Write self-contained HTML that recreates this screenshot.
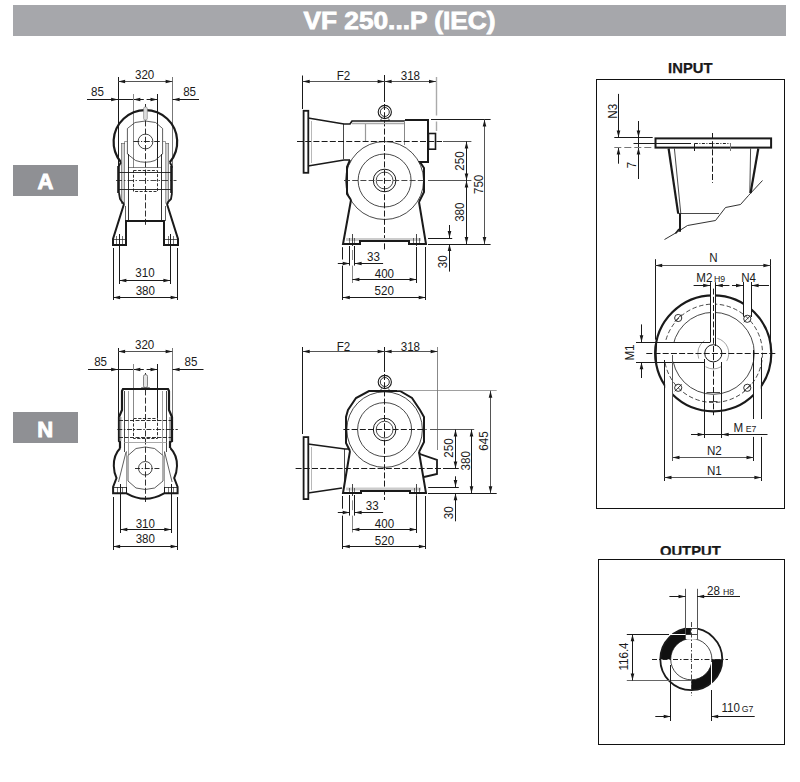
<!DOCTYPE html><html><head><meta charset="utf-8"><style>
html,body{margin:0;padding:0;background:#fff;}
body{width:800px;height:782px;position:relative;overflow:hidden;font-family:"Liberation Sans",sans-serif;}
svg{position:absolute;left:0;top:0;}
svg text{font-family:"Liberation Sans",sans-serif;}
</style></head><body>
<svg width="800" height="782" viewBox="0 0 800 782">
<rect x="13" y="5" width="773" height="31" fill="#a6a7ab"/>
<text x="0" y="0" transform="translate(399.50 28.70)" font-size="23.6" text-anchor="middle" font-weight="bold" fill="#fff" textLength="192" lengthAdjust="spacingAndGlyphs" stroke="#fff" stroke-width="0.8">VF 250...P (IEC)</text>
<rect x="13" y="165" width="65" height="31" fill="#8f9094"/>
<text x="0" y="0" transform="translate(45.50 188.60)" font-size="22" text-anchor="middle" font-weight="bold" fill="#fff" stroke="#fff" stroke-width="0.9">A</text>
<rect x="13" y="412" width="65" height="31" fill="#8f9094"/>
<text x="0" y="0" transform="translate(45.30 436.60)" font-size="22" text-anchor="middle" font-weight="bold" fill="#fff" stroke="#fff" stroke-width="0.9">N</text>
<rect x="596.5" y="79.5" width="188" height="429" fill="none" stroke="#111" stroke-width="1"/>
<text x="0" y="0" transform="translate(690.30 72.80)" font-size="14.8" text-anchor="middle" font-weight="bold" fill="#1a1a1a" stroke="#111" stroke-width="0.25">INPUT</text>
<text x="0" y="0" transform="translate(690.30 555.80)" font-size="14.8" text-anchor="middle" font-weight="bold" fill="#1a1a1a" stroke="#111" stroke-width="0.25">OUTPUT</text>
<rect x="640" y="554.8" width="100" height="4.2" fill="#fff"/>
<rect x="598.5" y="559.5" width="186" height="185" fill="none" stroke="#111" stroke-width="1"/>
<line x1="118.50" y1="77.00" x2="118.50" y2="168.00" stroke="#1a1a1a" stroke-width="1.0" stroke-linecap="butt"/>
<line x1="172.50" y1="77.00" x2="172.50" y2="168.00" stroke="#777" stroke-width="1.0" stroke-linecap="butt"/>
<line x1="118.10" y1="81.50" x2="172.60" y2="81.50" stroke="#555" stroke-width="1.0" stroke-linecap="butt"/>
<polygon points="118.10,81.50 125.10,79.70 125.10,83.30" fill="#1a1a1a"/>
<polygon points="172.60,81.50 165.60,83.30 165.60,79.70" fill="#1a1a1a"/>
<text x="0" y="0" transform="translate(144.60 79.30) scale(0.95 1)" font-size="12.2" text-anchor="middle" fill="#1a1a1a">320</text>
<line x1="87.00" y1="99.50" x2="133.30" y2="99.50" stroke="#1a1a1a" stroke-width="1.0" stroke-linecap="butt"/>
<polygon points="118.10,99.50 111.10,101.30 111.10,97.70" fill="#1a1a1a"/>
<line x1="143.80" y1="99.50" x2="133.30" y2="99.50" stroke="#1a1a1a" stroke-width="1.0" stroke-linecap="butt"/>
<polygon points="133.30,99.50 140.30,97.70 140.30,101.30" fill="#1a1a1a"/>
<line x1="146.60" y1="99.50" x2="157.50" y2="99.50" stroke="#1a1a1a" stroke-width="1.0" stroke-linecap="butt"/>
<polygon points="157.50,99.50 150.50,101.30 150.50,97.70" fill="#1a1a1a"/>
<line x1="199.00" y1="99.50" x2="172.60" y2="99.50" stroke="#1a1a1a" stroke-width="1.0" stroke-linecap="butt"/>
<polygon points="172.60,99.50 179.60,97.70 179.60,101.30" fill="#1a1a1a"/>
<text x="0" y="0" transform="translate(97.40 96.30) scale(0.95 1)" font-size="12.2" text-anchor="middle" fill="#1a1a1a">85</text>
<text x="0" y="0" transform="translate(189.60 96.30) scale(0.95 1)" font-size="12.2" text-anchor="middle" fill="#1a1a1a">85</text>
<line x1="133.50" y1="94.00" x2="133.50" y2="168.00" stroke="#888" stroke-width="1.0" stroke-linecap="butt"/>
<line x1="157.50" y1="94.00" x2="157.50" y2="168.00" stroke="#1a1a1a" stroke-width="1.0" stroke-linecap="butt"/>
<line x1="145.50" y1="104.00" x2="145.50" y2="227.00" stroke="#1a1a1a" stroke-width="0.9" stroke-linecap="butt" stroke-dasharray="6 2.2"/>
<path d="M 121 162.3 A 31.8 31.8 0 1 1 169.8 162.3" stroke="#1a1a1a" stroke-width="2.2" fill="none" stroke-linejoin="miter"/>
<rect x="143.6" y="107" width="3.7" height="13" rx="1.5" fill="#ddd" stroke="#777" stroke-width="0.6"/>
<path d="M 127.4 154 L 127.4 128.5 L 135 122.5 Q 145.3 119.5 155.6 122.5 L 162.6 128.5 L 162.6 154 L 155 160.5 Q 145.3 164 135.6 160.5 Z" stroke="#333" stroke-width="0.8" fill="none" stroke-linejoin="miter"/>
<circle cx="145.50" cy="141.50" r="7.40" stroke="#1a1a1a" stroke-width="0.8" fill="none"/>
<line x1="133.40" y1="141.50" x2="159.80" y2="141.50" stroke="#1a1a1a" stroke-width="0.9" stroke-linecap="butt" stroke-dasharray="6 1.6 1.2 1.6"/>
<line x1="128.20" y1="167.50" x2="161.20" y2="167.50" stroke="#555" stroke-width="0.7" stroke-linecap="butt"/>
<rect x="121.4" y="143.3" width="3.3" height="60" fill="#d4d4d4" stroke="#555" stroke-width="0.6"/>
<rect x="165.8" y="143.3" width="2.9" height="60" fill="#d4d4d4" stroke="#555" stroke-width="0.6"/>
<path d="M 124.5 143.5 L 124.5 141.5 L 127.5 141.5" stroke="#555" stroke-width="0.6" fill="none" stroke-linejoin="miter"/>
<path d="M 165.5 143.5 L 165.5 141.5 L 162.5 141.5" stroke="#555" stroke-width="0.6" fill="none" stroke-linejoin="miter"/>
<line x1="118.50" y1="166.00" x2="118.50" y2="193.00" stroke="#1a1a1a" stroke-width="2.6" stroke-linecap="butt"/>
<line x1="171.50" y1="166.00" x2="171.50" y2="193.00" stroke="#1a1a1a" stroke-width="2.6" stroke-linecap="butt"/>
<line x1="121.00" y1="162.30" x2="118.80" y2="166.00" stroke="#1a1a1a" stroke-width="1.8" stroke-linecap="butt"/>
<line x1="169.80" y1="162.30" x2="171.80" y2="166.00" stroke="#1a1a1a" stroke-width="1.8" stroke-linecap="butt"/>
<line x1="119.00" y1="172.50" x2="171.00" y2="172.50" stroke="#1a1a1a" stroke-width="0.9" stroke-linecap="butt"/>
<line x1="119.00" y1="189.50" x2="171.00" y2="189.50" stroke="#1a1a1a" stroke-width="0.9" stroke-linecap="butt"/>
<path d="M 133.5 170.5 L 157.5 170.5 L 157.5 191.5 L 133.5 191.5 Z" stroke="#1a1a1a" stroke-width="0.9" fill="none" stroke-linejoin="miter" stroke-dasharray="3 1.6"/>
<line x1="116.00" y1="180.50" x2="176.50" y2="180.50" stroke="#1a1a1a" stroke-width="0.8" stroke-linecap="butt" stroke-dasharray="6 2 1.5 2"/>
<line x1="128.50" y1="154.00" x2="128.50" y2="221.20" stroke="#1a1a1a" stroke-width="0.9" stroke-linecap="butt"/>
<line x1="161.50" y1="154.00" x2="161.50" y2="221.20" stroke="#1a1a1a" stroke-width="0.9" stroke-linecap="butt"/>
<path d="M 119 193 L 120 199 L 122 202 L 124 204" stroke="#1a1a1a" stroke-width="1.8" fill="none" stroke-linejoin="miter"/>
<path d="M 172 193 L 171 199 L 168 202 L 167 204" stroke="#1a1a1a" stroke-width="1.8" fill="none" stroke-linejoin="miter"/>
<path d="M 124 204 L 113 239 L 113 245 L 126 245 L 126 221 L 164 221 L 164 245 L 178 245 L 178 239 L 167 204" stroke="#1a1a1a" stroke-width="2.0" fill="none" stroke-linejoin="miter"/>
<line x1="113.10" y1="239.50" x2="126.50" y2="239.50" stroke="#1a1a1a" stroke-width="0.7" stroke-linecap="butt"/>
<line x1="164.00" y1="239.50" x2="177.60" y2="239.50" stroke="#1a1a1a" stroke-width="0.7" stroke-linecap="butt"/>
<line x1="116.50" y1="236.00" x2="116.50" y2="245.00" stroke="#1a1a1a" stroke-width="0.6" stroke-linecap="butt"/>
<line x1="122.50" y1="236.00" x2="122.50" y2="245.00" stroke="#1a1a1a" stroke-width="0.6" stroke-linecap="butt"/>
<line x1="168.50" y1="236.00" x2="168.50" y2="245.00" stroke="#1a1a1a" stroke-width="0.6" stroke-linecap="butt"/>
<line x1="173.50" y1="236.00" x2="173.50" y2="245.00" stroke="#1a1a1a" stroke-width="0.6" stroke-linecap="butt"/>
<line x1="125.50" y1="206.00" x2="125.50" y2="221.00" stroke="#1a1a1a" stroke-width="0.7" stroke-linecap="butt"/>
<line x1="165.50" y1="206.00" x2="165.50" y2="221.00" stroke="#1a1a1a" stroke-width="0.7" stroke-linecap="butt"/>
<line x1="119.50" y1="234.00" x2="119.50" y2="284.00" stroke="#1a1a1a" stroke-width="1.0" stroke-linecap="butt"/>
<line x1="170.50" y1="234.00" x2="170.50" y2="284.00" stroke="#1a1a1a" stroke-width="1.0" stroke-linecap="butt"/>
<line x1="119.40" y1="280.50" x2="170.40" y2="280.50" stroke="#1a1a1a" stroke-width="1.0" stroke-linecap="butt"/>
<polygon points="119.40,280.50 126.40,278.70 126.40,282.30" fill="#1a1a1a"/>
<polygon points="170.40,280.50 163.40,282.30 163.40,278.70" fill="#1a1a1a"/>
<text x="0" y="0" transform="translate(145.00 277.20) scale(0.95 1)" font-size="12.2" text-anchor="middle" fill="#1a1a1a">310</text>
<line x1="113.50" y1="248.00" x2="113.50" y2="300.00" stroke="#1a1a1a" stroke-width="1.0" stroke-linecap="butt"/>
<line x1="177.50" y1="248.00" x2="177.50" y2="300.00" stroke="#1a1a1a" stroke-width="1.0" stroke-linecap="butt"/>
<line x1="113.10" y1="297.50" x2="177.60" y2="297.50" stroke="#1a1a1a" stroke-width="1.0" stroke-linecap="butt"/>
<polygon points="113.10,297.50 120.10,295.70 120.10,299.30" fill="#1a1a1a"/>
<polygon points="177.60,297.50 170.60,299.30 170.60,295.70" fill="#1a1a1a"/>
<text x="0" y="0" transform="translate(145.30 294.50) scale(0.95 1)" font-size="12.2" text-anchor="middle" fill="#1a1a1a">380</text>
<line x1="302.50" y1="75.50" x2="302.50" y2="109.00" stroke="#1a1a1a" stroke-width="1.0" stroke-linecap="butt"/>
<line x1="384.50" y1="75.00" x2="384.50" y2="102.00" stroke="#1a1a1a" stroke-width="1.0" stroke-linecap="butt"/>
<line x1="384.50" y1="104.00" x2="384.50" y2="250.00" stroke="#1a1a1a" stroke-width="1.0" stroke-linecap="butt" stroke-dasharray="6 2.2"/>
<line x1="436.50" y1="77.00" x2="436.50" y2="115.50" stroke="#aaa" stroke-width="1.4" stroke-linecap="butt"/>
<line x1="436.50" y1="121.50" x2="436.50" y2="131.00" stroke="#aaa" stroke-width="1.4" stroke-linecap="butt"/>
<line x1="302.70" y1="81.50" x2="384.60" y2="81.50" stroke="#555" stroke-width="1.0" stroke-linecap="butt"/>
<polygon points="302.70,81.50 309.70,79.70 309.70,83.30" fill="#1a1a1a"/>
<polygon points="384.60,81.50 377.60,83.30 377.60,79.70" fill="#1a1a1a"/>
<line x1="384.60" y1="81.50" x2="436.00" y2="81.50" stroke="#555" stroke-width="1.0" stroke-linecap="butt"/>
<polygon points="384.60,81.50 391.60,79.70 391.60,83.30" fill="#1a1a1a"/>
<polygon points="436.00,81.50 429.00,83.30 429.00,79.70" fill="#1a1a1a"/>
<text x="0" y="0" transform="translate(343.40 80.20) scale(0.95 1)" font-size="12.2" text-anchor="middle" fill="#1a1a1a">F2</text>
<text x="0" y="0" transform="translate(410.40 80.20) scale(0.95 1)" font-size="12.2" text-anchor="middle" fill="#1a1a1a">318</text>
<circle cx="384.80" cy="112.00" r="6.60" stroke="#1a1a1a" stroke-width="1.1" fill="none"/>
<circle cx="384.80" cy="112.00" r="4.50" stroke="#1a1a1a" stroke-width="0.9" fill="none"/>
<path d="M 381.5 118.5 L 380.5 120.5 L 389.5 120.5 L 388.5 118.5" stroke="#1a1a1a" stroke-width="0.8" fill="none" stroke-linejoin="miter"/>
<rect x="303.6" y="110.8" width="4.7" height="62" fill="none" stroke="#1a1a1a" stroke-width="1.8"/>
<path d="M 308 118 L 344 124 L 350 124 L 352 121 L 405 121" stroke="#1a1a1a" stroke-width="1.7" fill="none" stroke-linejoin="miter"/>
<path d="M 308 166 L 344 160 L 350 160" stroke="#1a1a1a" stroke-width="1.7" fill="none" stroke-linejoin="miter"/>
<line x1="311.50" y1="121.00" x2="311.50" y2="163.00" stroke="#888" stroke-width="0.6" stroke-linecap="butt"/>
<line x1="343.50" y1="123.90" x2="343.50" y2="159.10" stroke="#1a1a1a" stroke-width="0.8" stroke-linecap="butt"/>
<line x1="352.00" y1="123.50" x2="404.00" y2="123.50" stroke="#aaa" stroke-width="1.4" stroke-linecap="butt"/>
<line x1="365.50" y1="124.00" x2="365.50" y2="141.40" stroke="#999" stroke-width="1.2" stroke-linecap="butt"/>
<line x1="404.50" y1="121.00" x2="404.50" y2="145.00" stroke="#888" stroke-width="1.0" stroke-linecap="butt"/>
<path d="M 405 120 L 428 120 L 428 162 L 420 162 L 424 168 L 424 192 L 419 202" stroke="#1a1a1a" stroke-width="2.0" fill="none" stroke-linejoin="miter"/>
<rect x="428.5" y="133.5" width="7" height="15.7" fill="none" stroke="#1a1a1a" stroke-width="1.6"/>
<path d="M 350 160 L 347 167 L 347 194 L 351 200" stroke="#1a1a1a" stroke-width="2.0" fill="none" stroke-linejoin="miter"/>
<circle cx="384.60" cy="180.50" r="39.00" stroke="#1a1a1a" stroke-width="0.8" fill="none"/>
<circle cx="384.60" cy="180.50" r="26.50" stroke="#1a1a1a" stroke-width="0.8" fill="none"/>
<circle cx="384.60" cy="180.50" r="11.30" stroke="#1a1a1a" stroke-width="1.0" fill="none"/>
<circle cx="384.60" cy="180.50" r="8.40" stroke="#1a1a1a" stroke-width="0.8" fill="none"/>
<line x1="297.00" y1="141.50" x2="442.00" y2="141.50" stroke="#1a1a1a" stroke-width="1.0" stroke-linecap="butt" stroke-dasharray="6 2.2"/>
<line x1="443.00" y1="141.50" x2="471.40" y2="141.50" stroke="#555" stroke-width="1.0" stroke-linecap="butt"/>
<line x1="344.00" y1="180.50" x2="425.00" y2="180.50" stroke="#333" stroke-width="0.9" stroke-linecap="butt" stroke-dasharray="6 2.2"/>
<line x1="428.00" y1="180.50" x2="471.40" y2="180.50" stroke="#555" stroke-width="1.0" stroke-linecap="butt"/>
<rect x="346" y="238" width="75" height="3" fill="#ccc"/>
<path d="M 351 200 L 343 244 L 360 244 L 360 241 L 409 241 L 409 244 L 426 244 L 419 202" stroke="#1a1a1a" stroke-width="2.0" fill="none" stroke-linejoin="miter"/>
<line x1="360.50" y1="241.00" x2="408.80" y2="241.00" stroke="#1a1a1a" stroke-width="2.2" stroke-linecap="butt"/>
<line x1="352.50" y1="234.00" x2="352.50" y2="246.00" stroke="#1a1a1a" stroke-width="0.8" stroke-linecap="butt"/>
<line x1="349.50" y1="238.00" x2="349.50" y2="244.00" stroke="#1a1a1a" stroke-width="0.6" stroke-linecap="butt"/>
<line x1="354.50" y1="238.00" x2="354.50" y2="244.00" stroke="#1a1a1a" stroke-width="0.6" stroke-linecap="butt"/>
<line x1="416.50" y1="234.00" x2="416.50" y2="246.00" stroke="#1a1a1a" stroke-width="0.8" stroke-linecap="butt"/>
<line x1="413.50" y1="238.00" x2="413.50" y2="244.00" stroke="#1a1a1a" stroke-width="0.6" stroke-linecap="butt"/>
<line x1="419.50" y1="238.00" x2="419.50" y2="244.00" stroke="#1a1a1a" stroke-width="0.6" stroke-linecap="butt"/>
<line x1="431.00" y1="119.50" x2="490.60" y2="119.50" stroke="#1a1a1a" stroke-width="1.0" stroke-linecap="butt"/>
<line x1="428.00" y1="244.50" x2="490.60" y2="244.50" stroke="#1a1a1a" stroke-width="1.0" stroke-linecap="butt"/>
<line x1="484.50" y1="119.40" x2="484.50" y2="244.10" stroke="#555" stroke-width="1.0" stroke-linecap="butt"/>
<polygon points="484.50,119.40 486.30,126.40 482.70,126.40" fill="#1a1a1a"/>
<polygon points="484.50,244.10 482.70,237.10 486.30,237.10" fill="#1a1a1a"/>
<text x="0" y="0" transform="translate(479.00 184.40) rotate(-90) scale(0.95 1)" font-size="12.2" text-anchor="middle" fill="#1a1a1a" dominant-baseline="central">750</text>
<line x1="466.50" y1="141.40" x2="466.50" y2="180.50" stroke="#1a1a1a" stroke-width="1.0" stroke-linecap="butt"/>
<polygon points="466.50,141.40 468.30,148.40 464.70,148.40" fill="#1a1a1a"/>
<polygon points="466.50,180.50 464.70,173.50 468.30,173.50" fill="#1a1a1a"/>
<line x1="466.50" y1="180.50" x2="466.50" y2="244.10" stroke="#1a1a1a" stroke-width="1.0" stroke-linecap="butt"/>
<polygon points="466.50,180.50 468.30,187.50 464.70,187.50" fill="#1a1a1a"/>
<polygon points="466.50,244.10 464.70,237.10 468.30,237.10" fill="#1a1a1a"/>
<text x="0" y="0" transform="translate(460.30 161.00) rotate(-90) scale(0.95 1)" font-size="12.2" text-anchor="middle" fill="#1a1a1a" dominant-baseline="central">250</text>
<text x="0" y="0" transform="translate(460.30 212.20) rotate(-90) scale(0.95 1)" font-size="12.2" text-anchor="middle" fill="#1a1a1a" dominant-baseline="central">380</text>
<line x1="428.00" y1="238.50" x2="452.20" y2="238.50" stroke="#1a1a1a" stroke-width="1.0" stroke-linecap="butt"/>
<line x1="449.50" y1="225.00" x2="449.50" y2="238.10" stroke="#1a1a1a" stroke-width="1.0" stroke-linecap="butt"/>
<polygon points="449.50,238.10 447.70,231.10 451.30,231.10" fill="#1a1a1a"/>
<line x1="449.50" y1="271.60" x2="449.50" y2="244.10" stroke="#1a1a1a" stroke-width="1.0" stroke-linecap="butt"/>
<polygon points="449.50,244.10 451.30,251.10 447.70,251.10" fill="#1a1a1a"/>
<text x="0" y="0" transform="translate(443.00 261.70) rotate(-90) scale(0.95 1)" font-size="12.2" text-anchor="middle" fill="#1a1a1a" dominant-baseline="central">30</text>
<line x1="342.50" y1="247.20" x2="342.50" y2="259.50" stroke="#1a1a1a" stroke-width="1.0" stroke-linecap="butt"/>
<line x1="342.50" y1="265.60" x2="342.50" y2="300.00" stroke="#1a1a1a" stroke-width="1.0" stroke-linecap="butt"/>
<line x1="425.50" y1="247.00" x2="425.50" y2="300.00" stroke="#1a1a1a" stroke-width="1.0" stroke-linecap="butt"/>
<line x1="349.50" y1="246.00" x2="349.50" y2="265.60" stroke="#1a1a1a" stroke-width="1.0" stroke-linecap="butt"/>
<line x1="354.50" y1="246.00" x2="354.50" y2="265.60" stroke="#1a1a1a" stroke-width="1.0" stroke-linecap="butt"/>
<line x1="352.50" y1="250.00" x2="352.50" y2="260.00" stroke="#888" stroke-width="1.0" stroke-linecap="butt"/>
<line x1="352.50" y1="265.60" x2="352.50" y2="283.00" stroke="#888" stroke-width="1.0" stroke-linecap="butt"/>
<line x1="416.50" y1="247.00" x2="416.50" y2="283.00" stroke="#1a1a1a" stroke-width="1.0" stroke-linecap="butt"/>
<line x1="337.80" y1="263.50" x2="349.70" y2="263.50" stroke="#1a1a1a" stroke-width="1.0" stroke-linecap="butt"/>
<polygon points="349.70,263.50 342.70,265.30 342.70,261.70" fill="#1a1a1a"/>
<line x1="383.10" y1="263.50" x2="354.60" y2="263.50" stroke="#1a1a1a" stroke-width="1.0" stroke-linecap="butt"/>
<polygon points="354.60,263.50 361.60,261.70 361.60,265.30" fill="#1a1a1a"/>
<text x="0" y="0" transform="translate(373.50 261.30) scale(0.95 1)" font-size="12.2" text-anchor="middle" fill="#1a1a1a">33</text>
<line x1="352.40" y1="279.50" x2="416.60" y2="279.50" stroke="#1a1a1a" stroke-width="1.0" stroke-linecap="butt"/>
<polygon points="352.40,279.50 359.40,277.70 359.40,281.30" fill="#1a1a1a"/>
<polygon points="416.60,279.50 409.60,281.30 409.60,277.70" fill="#1a1a1a"/>
<text x="0" y="0" transform="translate(384.40 278.40) scale(0.95 1)" font-size="12.2" text-anchor="middle" fill="#1a1a1a">400</text>
<line x1="342.80" y1="297.50" x2="425.70" y2="297.50" stroke="#1a1a1a" stroke-width="1.0" stroke-linecap="butt"/>
<polygon points="342.80,297.50 349.80,295.70 349.80,299.30" fill="#1a1a1a"/>
<polygon points="425.70,297.50 418.70,299.30 418.70,295.70" fill="#1a1a1a"/>
<text x="0" y="0" transform="translate(384.20 295.10) scale(0.95 1)" font-size="12.2" text-anchor="middle" fill="#1a1a1a">520</text>
<line x1="118.50" y1="348.00" x2="118.50" y2="418.00" stroke="#1a1a1a" stroke-width="1.0" stroke-linecap="butt"/>
<line x1="172.50" y1="348.00" x2="172.50" y2="418.00" stroke="#777" stroke-width="1.0" stroke-linecap="butt"/>
<line x1="118.10" y1="351.50" x2="172.60" y2="351.50" stroke="#555" stroke-width="1.0" stroke-linecap="butt"/>
<polygon points="118.10,351.50 125.10,349.70 125.10,353.30" fill="#1a1a1a"/>
<polygon points="172.60,351.50 165.60,353.30 165.60,349.70" fill="#1a1a1a"/>
<text x="0" y="0" transform="translate(144.60 349.30) scale(0.95 1)" font-size="12.2" text-anchor="middle" fill="#1a1a1a">320</text>
<line x1="88.00" y1="369.50" x2="133.30" y2="369.50" stroke="#1a1a1a" stroke-width="1.0" stroke-linecap="butt"/>
<polygon points="118.10,369.50 111.10,371.30 111.10,367.70" fill="#1a1a1a"/>
<line x1="143.80" y1="369.50" x2="133.30" y2="369.50" stroke="#1a1a1a" stroke-width="1.0" stroke-linecap="butt"/>
<polygon points="133.30,369.50 140.30,367.70 140.30,371.30" fill="#1a1a1a"/>
<line x1="146.60" y1="369.50" x2="157.50" y2="369.50" stroke="#1a1a1a" stroke-width="1.0" stroke-linecap="butt"/>
<polygon points="157.50,369.50 150.50,371.30 150.50,367.70" fill="#1a1a1a"/>
<line x1="203.50" y1="369.50" x2="172.60" y2="369.50" stroke="#1a1a1a" stroke-width="1.0" stroke-linecap="butt"/>
<polygon points="172.60,369.50 179.60,367.70 179.60,371.30" fill="#1a1a1a"/>
<text x="0" y="0" transform="translate(100.60 366.30) scale(0.95 1)" font-size="12.2" text-anchor="middle" fill="#1a1a1a">85</text>
<text x="0" y="0" transform="translate(191.00 366.30) scale(0.95 1)" font-size="12.2" text-anchor="middle" fill="#1a1a1a">85</text>
<line x1="133.50" y1="364.00" x2="133.50" y2="418.00" stroke="#888" stroke-width="1.0" stroke-linecap="butt"/>
<line x1="157.50" y1="364.00" x2="157.50" y2="418.00" stroke="#1a1a1a" stroke-width="1.0" stroke-linecap="butt"/>
<line x1="145.50" y1="373.00" x2="145.50" y2="503.00" stroke="#1a1a1a" stroke-width="0.9" stroke-linecap="butt" stroke-dasharray="6 2.2"/>
<rect x="143.5" y="374.6" width="4" height="13" rx="1.8" fill="#e6e6e6" stroke="#555" stroke-width="0.7"/>
<path d="M 140.5 389.5 L 141.5 387.5 L 149.5 387.5 L 150.5 389.5" stroke="#555" stroke-width="0.7" fill="none" stroke-linejoin="miter"/>
<path d="M 120 448 L 120 442 L 119 441 L 119 417 L 122 410 L 122 391 L 123 389 L 168 389 L 169 391 L 169 410 L 172 417 L 172 441 L 170 442 L 170 448" stroke="#1a1a1a" stroke-width="2.2" fill="none" stroke-linejoin="miter"/>
<rect x="119.6" y="417" width="1.8" height="24" fill="#999"/>
<rect x="169.2" y="417" width="1.8" height="24" fill="#999"/>
<line x1="124.50" y1="391.00" x2="124.50" y2="452.00" stroke="#1a1a1a" stroke-width="0.8" stroke-linecap="butt"/>
<line x1="166.50" y1="391.00" x2="166.50" y2="452.00" stroke="#1a1a1a" stroke-width="0.8" stroke-linecap="butt"/>
<line x1="126.50" y1="451.00" x2="126.50" y2="487.00" stroke="#888" stroke-width="0.8" stroke-linecap="butt"/>
<line x1="164.50" y1="451.00" x2="164.50" y2="487.00" stroke="#888" stroke-width="0.8" stroke-linecap="butt"/>
<line x1="128.50" y1="391.00" x2="128.50" y2="455.00" stroke="#888" stroke-width="0.8" stroke-linecap="butt"/>
<line x1="162.50" y1="391.00" x2="162.50" y2="455.00" stroke="#888" stroke-width="0.8" stroke-linecap="butt"/>
<path d="M 133.5 418.5 L 157.5 418.5 L 157.5 438.5 L 133.5 438.5 Z" stroke="#1a1a1a" stroke-width="0.9" fill="none" stroke-linejoin="miter" stroke-dasharray="3.2 1.5"/>
<line x1="119.00" y1="420.50" x2="171.50" y2="420.50" stroke="#1a1a1a" stroke-width="0.9" stroke-linecap="butt" stroke-dasharray="4 1.5"/>
<line x1="119.00" y1="437.50" x2="171.50" y2="437.50" stroke="#1a1a1a" stroke-width="0.9" stroke-linecap="butt" stroke-dasharray="4 1.5"/>
<line x1="117.30" y1="429.50" x2="177.80" y2="429.50" stroke="#1a1a1a" stroke-width="0.9" stroke-linecap="butt" stroke-dasharray="5 1.6 1.5 1.6"/>
<line x1="124.40" y1="442.50" x2="166.40" y2="442.50" stroke="#aaa" stroke-width="1.0" stroke-linecap="butt"/>
<path d="M 120.3 448 Q 113.5 455 113.8 466 Q 114 473 116.5 478 L 113.1 487 L 113.1 493.3 L 126.5 493.3 Q 145.3 504 164.1 493.3 L 177.6 493.3 L 177.6 487 L 174.2 478 Q 176.8 473 177 466 Q 177.2 455 170.3 448" stroke="#1a1a1a" stroke-width="2.0" fill="none" stroke-linejoin="miter"/>
<path d="M 128 455.5 L 136 448.5 Q 145.3 445.5 154.6 448.5 L 163 455.5 L 163 481 L 154.6 488 Q 145.3 491 136 488 L 128 481 Z" stroke="#333" stroke-width="0.8" fill="none" stroke-linejoin="miter"/>
<circle cx="145.30" cy="468.30" r="6.80" stroke="#1a1a1a" stroke-width="0.8" fill="none"/>
<line x1="135.00" y1="468.50" x2="160.00" y2="468.50" stroke="#1a1a1a" stroke-width="0.9" stroke-linecap="butt" stroke-dasharray="5 1.6 1.5 1.6"/>
<line x1="126.00" y1="452.00" x2="118.50" y2="482.00" stroke="#1a1a1a" stroke-width="0.7" stroke-linecap="butt"/>
<line x1="164.60" y1="452.00" x2="172.10" y2="482.00" stroke="#1a1a1a" stroke-width="0.7" stroke-linecap="butt"/>
<line x1="113.10" y1="487.50" x2="126.50" y2="487.50" stroke="#1a1a1a" stroke-width="0.8" stroke-linecap="butt"/>
<line x1="164.10" y1="487.50" x2="177.60" y2="487.50" stroke="#1a1a1a" stroke-width="0.8" stroke-linecap="butt"/>
<line x1="126.50" y1="487.00" x2="126.50" y2="493.30" stroke="#1a1a1a" stroke-width="1.0" stroke-linecap="butt"/>
<line x1="164.50" y1="487.00" x2="164.50" y2="493.30" stroke="#1a1a1a" stroke-width="1.0" stroke-linecap="butt"/>
<line x1="117.50" y1="487.00" x2="117.50" y2="493.00" stroke="#1a1a1a" stroke-width="0.6" stroke-linecap="butt"/>
<line x1="122.50" y1="487.00" x2="122.50" y2="493.00" stroke="#1a1a1a" stroke-width="0.6" stroke-linecap="butt"/>
<line x1="168.50" y1="487.00" x2="168.50" y2="493.00" stroke="#1a1a1a" stroke-width="0.6" stroke-linecap="butt"/>
<line x1="173.50" y1="487.00" x2="173.50" y2="493.00" stroke="#1a1a1a" stroke-width="0.6" stroke-linecap="butt"/>
<line x1="120.50" y1="484.00" x2="120.50" y2="533.00" stroke="#1a1a1a" stroke-width="1.0" stroke-linecap="butt"/>
<line x1="171.50" y1="484.00" x2="171.50" y2="533.00" stroke="#1a1a1a" stroke-width="1.0" stroke-linecap="butt"/>
<line x1="120.30" y1="529.50" x2="171.30" y2="529.50" stroke="#1a1a1a" stroke-width="1.0" stroke-linecap="butt"/>
<polygon points="120.30,529.50 127.30,527.70 127.30,531.30" fill="#1a1a1a"/>
<polygon points="171.30,529.50 164.30,531.30 164.30,527.70" fill="#1a1a1a"/>
<text x="0" y="0" transform="translate(145.30 527.70) scale(0.95 1)" font-size="12.2" text-anchor="middle" fill="#1a1a1a">310</text>
<line x1="113.50" y1="497.00" x2="113.50" y2="550.00" stroke="#1a1a1a" stroke-width="1.0" stroke-linecap="butt"/>
<line x1="177.50" y1="497.00" x2="177.50" y2="550.00" stroke="#1a1a1a" stroke-width="1.0" stroke-linecap="butt"/>
<line x1="113.10" y1="546.50" x2="177.60" y2="546.50" stroke="#1a1a1a" stroke-width="1.0" stroke-linecap="butt"/>
<polygon points="113.10,546.50 120.10,544.70 120.10,548.30" fill="#1a1a1a"/>
<polygon points="177.60,546.50 170.60,548.30 170.60,544.70" fill="#1a1a1a"/>
<text x="0" y="0" transform="translate(145.30 543.30) scale(0.95 1)" font-size="12.2" text-anchor="middle" fill="#1a1a1a">380</text>
<line x1="302.50" y1="347.00" x2="302.50" y2="434.00" stroke="#1a1a1a" stroke-width="1.0" stroke-linecap="butt"/>
<line x1="384.50" y1="347.00" x2="384.50" y2="372.00" stroke="#1a1a1a" stroke-width="1.0" stroke-linecap="butt"/>
<line x1="384.50" y1="374.00" x2="384.50" y2="500.00" stroke="#1a1a1a" stroke-width="1.0" stroke-linecap="butt" stroke-dasharray="6 2.2"/>
<line x1="437.50" y1="347.00" x2="437.50" y2="450.00" stroke="#888" stroke-width="1.0" stroke-linecap="butt"/>
<line x1="302.70" y1="351.50" x2="384.60" y2="351.50" stroke="#555" stroke-width="1.0" stroke-linecap="butt"/>
<polygon points="302.70,351.50 309.70,349.70 309.70,353.30" fill="#1a1a1a"/>
<polygon points="384.60,351.50 377.60,353.30 377.60,349.70" fill="#1a1a1a"/>
<line x1="384.60" y1="351.50" x2="437.60" y2="351.50" stroke="#555" stroke-width="1.0" stroke-linecap="butt"/>
<polygon points="384.60,351.50 391.60,349.70 391.60,353.30" fill="#1a1a1a"/>
<polygon points="437.60,351.50 430.60,353.30 430.60,349.70" fill="#1a1a1a"/>
<text x="0" y="0" transform="translate(343.40 350.80) scale(0.95 1)" font-size="12.2" text-anchor="middle" fill="#1a1a1a">F2</text>
<text x="0" y="0" transform="translate(410.40 350.80) scale(0.95 1)" font-size="12.2" text-anchor="middle" fill="#1a1a1a">318</text>
<circle cx="384.80" cy="382.00" r="6.60" stroke="#1a1a1a" stroke-width="1.1" fill="none"/>
<circle cx="384.80" cy="382.00" r="4.50" stroke="#1a1a1a" stroke-width="0.9" fill="none"/>
<path d="M 381.5 388.5 L 380.5 390.5 L 389.5 390.5 L 388.5 388.5" stroke="#1a1a1a" stroke-width="0.8" fill="none" stroke-linejoin="miter"/>
<path d="M 350 451 L 346 443 L 346 417 L 348 410 L 356 398 L 369 391 L 400 391 L 412 398 L 420 410 L 424 417 L 424 442 L 419 452" stroke="#1a1a1a" stroke-width="2.0" fill="none" stroke-linejoin="miter"/>
<circle cx="384.60" cy="429.60" r="37.80" stroke="#1a1a1a" stroke-width="0.8" fill="none"/>
<circle cx="384.60" cy="429.60" r="27.00" stroke="#1a1a1a" stroke-width="0.8" fill="none"/>
<circle cx="384.60" cy="429.60" r="11.30" stroke="#1a1a1a" stroke-width="1.0" fill="none"/>
<circle cx="384.60" cy="429.60" r="8.40" stroke="#1a1a1a" stroke-width="0.8" fill="none"/>
<line x1="343.40" y1="429.50" x2="426.60" y2="429.50" stroke="#1a1a1a" stroke-width="1.0" stroke-linecap="butt" stroke-dasharray="6 2.2"/>
<line x1="430.00" y1="429.50" x2="474.20" y2="429.50" stroke="#555" stroke-width="1.0" stroke-linecap="butt"/>
<line x1="295.60" y1="468.50" x2="441.00" y2="468.50" stroke="#1a1a1a" stroke-width="1.0" stroke-linecap="butt" stroke-dasharray="6 2.2"/>
<line x1="443.00" y1="468.50" x2="458.80" y2="468.50" stroke="#1a1a1a" stroke-width="1.0" stroke-linecap="butt"/>
<rect x="303.6" y="437.1" width="4.7" height="62" fill="none" stroke="#1a1a1a" stroke-width="1.8"/>
<path d="M 308 444 L 345 449 L 349 449" stroke="#1a1a1a" stroke-width="1.7" fill="none" stroke-linejoin="miter"/>
<path d="M 308 493 L 342 488" stroke="#1a1a1a" stroke-width="1.7" fill="none" stroke-linejoin="miter"/>
<line x1="311.50" y1="447.00" x2="311.50" y2="490.00" stroke="#888" stroke-width="0.6" stroke-linecap="butt"/>
<line x1="344.50" y1="449.00" x2="344.50" y2="486.00" stroke="#1a1a1a" stroke-width="0.8" stroke-linecap="butt"/>
<rect x="346" y="487.5" width="75" height="3" fill="#ccc"/>
<path d="M 350 451 L 343 493 L 361 493 L 361 491 L 410 491 L 410 493 L 426 493 L 419 452" stroke="#1a1a1a" stroke-width="2.0" fill="none" stroke-linejoin="miter"/>
<line x1="360.70" y1="491.00" x2="409.80" y2="491.00" stroke="#1a1a1a" stroke-width="2.2" stroke-linecap="butt"/>
<line x1="352.50" y1="484.00" x2="352.50" y2="496.00" stroke="#1a1a1a" stroke-width="0.8" stroke-linecap="butt"/>
<line x1="349.50" y1="488.00" x2="349.50" y2="493.00" stroke="#1a1a1a" stroke-width="0.6" stroke-linecap="butt"/>
<line x1="354.50" y1="488.00" x2="354.50" y2="493.00" stroke="#1a1a1a" stroke-width="0.6" stroke-linecap="butt"/>
<line x1="416.50" y1="484.00" x2="416.50" y2="496.00" stroke="#1a1a1a" stroke-width="0.8" stroke-linecap="butt"/>
<line x1="414.50" y1="488.00" x2="414.50" y2="493.00" stroke="#1a1a1a" stroke-width="0.6" stroke-linecap="butt"/>
<line x1="419.50" y1="488.00" x2="419.50" y2="493.00" stroke="#1a1a1a" stroke-width="0.6" stroke-linecap="butt"/>
<path d="M 419 452 L 420 454 L 437 460 L 437 474 L 424 477" stroke="#1a1a1a" stroke-width="1.8" fill="none" stroke-linejoin="miter"/>
<line x1="397.00" y1="390.50" x2="496.70" y2="390.50" stroke="#777" stroke-width="0.7" stroke-linecap="butt"/>
<line x1="428.00" y1="493.50" x2="496.70" y2="493.50" stroke="#1a1a1a" stroke-width="1.0" stroke-linecap="butt"/>
<line x1="490.50" y1="390.70" x2="490.50" y2="493.30" stroke="#555" stroke-width="1.0" stroke-linecap="butt"/>
<polygon points="490.50,390.70 492.30,397.70 488.70,397.70" fill="#1a1a1a"/>
<polygon points="490.50,493.30 488.70,486.30 492.30,486.30" fill="#1a1a1a"/>
<text x="0" y="0" transform="translate(484.10 441.00) rotate(-90) scale(0.95 1)" font-size="12.2" text-anchor="middle" fill="#1a1a1a" dominant-baseline="central">645</text>
<line x1="474.50" y1="429.60" x2="474.50" y2="429.60" stroke="#1a1a1a" stroke-width="1.0" stroke-linecap="butt"/>
<line x1="455.50" y1="429.60" x2="455.50" y2="468.60" stroke="#1a1a1a" stroke-width="1.0" stroke-linecap="butt"/>
<polygon points="455.50,429.60 457.30,436.60 453.70,436.60" fill="#1a1a1a"/>
<polygon points="455.50,468.60 453.70,461.60 457.30,461.60" fill="#1a1a1a"/>
<text x="0" y="0" transform="translate(449.00 448.00) rotate(-90) scale(0.95 1)" font-size="12.2" text-anchor="middle" fill="#1a1a1a" dominant-baseline="central">250</text>
<line x1="471.50" y1="429.60" x2="471.50" y2="493.30" stroke="#1a1a1a" stroke-width="1.0" stroke-linecap="butt"/>
<polygon points="471.50,429.60 473.30,436.60 469.70,436.60" fill="#1a1a1a"/>
<polygon points="471.50,493.30 469.70,486.30 473.30,486.30" fill="#1a1a1a"/>
<text x="0" y="0" transform="translate(465.80 460.80) rotate(-90) scale(0.95 1)" font-size="12.2" text-anchor="middle" fill="#1a1a1a" dominant-baseline="central">380</text>
<line x1="428.20" y1="487.50" x2="458.80" y2="487.50" stroke="#1a1a1a" stroke-width="1.0" stroke-linecap="butt"/>
<line x1="455.50" y1="476.30" x2="455.50" y2="487.00" stroke="#1a1a1a" stroke-width="1.0" stroke-linecap="butt"/>
<polygon points="455.50,487.00 453.70,480.00 457.30,480.00" fill="#1a1a1a"/>
<line x1="455.50" y1="521.30" x2="455.50" y2="493.30" stroke="#1a1a1a" stroke-width="1.0" stroke-linecap="butt"/>
<polygon points="455.50,493.30 457.30,500.30 453.70,500.30" fill="#1a1a1a"/>
<text x="0" y="0" transform="translate(449.00 512.80) rotate(-90) scale(0.95 1)" font-size="12.2" text-anchor="middle" fill="#1a1a1a" dominant-baseline="central">30</text>
<line x1="342.50" y1="496.00" x2="342.50" y2="508.70" stroke="#1a1a1a" stroke-width="1.0" stroke-linecap="butt"/>
<line x1="342.50" y1="515.60" x2="342.50" y2="549.00" stroke="#1a1a1a" stroke-width="1.0" stroke-linecap="butt"/>
<line x1="425.50" y1="496.00" x2="425.50" y2="549.00" stroke="#1a1a1a" stroke-width="1.0" stroke-linecap="butt"/>
<line x1="349.50" y1="495.00" x2="349.50" y2="515.60" stroke="#1a1a1a" stroke-width="1.0" stroke-linecap="butt"/>
<line x1="354.50" y1="495.00" x2="354.50" y2="515.60" stroke="#1a1a1a" stroke-width="1.0" stroke-linecap="butt"/>
<line x1="352.50" y1="500.30" x2="352.50" y2="510.20" stroke="#888" stroke-width="1.0" stroke-linecap="butt"/>
<line x1="352.50" y1="515.60" x2="352.50" y2="532.50" stroke="#888" stroke-width="1.0" stroke-linecap="butt"/>
<line x1="416.50" y1="496.00" x2="416.50" y2="533.00" stroke="#1a1a1a" stroke-width="1.0" stroke-linecap="butt"/>
<line x1="337.80" y1="512.50" x2="349.70" y2="512.50" stroke="#1a1a1a" stroke-width="1.0" stroke-linecap="butt"/>
<polygon points="349.70,512.50 342.70,514.30 342.70,510.70" fill="#1a1a1a"/>
<line x1="383.10" y1="512.50" x2="354.60" y2="512.50" stroke="#1a1a1a" stroke-width="1.0" stroke-linecap="butt"/>
<polygon points="354.60,512.50 361.60,510.70 361.60,514.30" fill="#1a1a1a"/>
<text x="0" y="0" transform="translate(372.30 510.30) scale(0.95 1)" font-size="12.2" text-anchor="middle" fill="#1a1a1a">33</text>
<line x1="352.40" y1="529.50" x2="416.70" y2="529.50" stroke="#1a1a1a" stroke-width="1.0" stroke-linecap="butt"/>
<polygon points="352.40,529.50 359.40,527.70 359.40,531.30" fill="#1a1a1a"/>
<polygon points="416.70,529.50 409.70,531.30 409.70,527.70" fill="#1a1a1a"/>
<text x="0" y="0" transform="translate(384.50 528.20) scale(0.95 1)" font-size="12.2" text-anchor="middle" fill="#1a1a1a">400</text>
<line x1="342.80" y1="546.50" x2="425.90" y2="546.50" stroke="#1a1a1a" stroke-width="1.0" stroke-linecap="butt"/>
<polygon points="342.80,546.50 349.80,544.70 349.80,548.30" fill="#1a1a1a"/>
<polygon points="425.90,546.50 418.90,548.30 418.90,544.70" fill="#1a1a1a"/>
<text x="0" y="0" transform="translate(384.50 544.90) scale(0.95 1)" font-size="12.2" text-anchor="middle" fill="#1a1a1a">520</text>
<rect x="655.5" y="138.4" width="115.6" height="9.2" fill="none" stroke="#1a1a1a" stroke-width="2.0"/>
<line x1="618.50" y1="93.90" x2="618.50" y2="137.40" stroke="#1a1a1a" stroke-width="1.0" stroke-linecap="butt"/>
<polygon points="618.50,137.40 616.70,130.40 620.30,130.40" fill="#1a1a1a"/>
<line x1="618.50" y1="163.70" x2="618.50" y2="147.60" stroke="#1a1a1a" stroke-width="1.0" stroke-linecap="butt"/>
<polygon points="618.50,147.60 620.30,154.60 616.70,154.60" fill="#1a1a1a"/>
<text x="0" y="0" transform="translate(612.50 111.30) rotate(-90) scale(0.95 1)" font-size="12.2" text-anchor="middle" fill="#1a1a1a" dominant-baseline="central">N3</text>
<line x1="638.50" y1="121.00" x2="638.50" y2="147.60" stroke="#1a1a1a" stroke-width="1.0" stroke-linecap="butt"/>
<polygon points="638.50,137.40 636.70,130.40 640.30,130.40" fill="#1a1a1a"/>
<line x1="638.50" y1="179.00" x2="638.50" y2="147.60" stroke="#1a1a1a" stroke-width="1.0" stroke-linecap="butt"/>
<polygon points="638.50,147.60 640.30,154.60 636.70,154.60" fill="#1a1a1a"/>
<text x="0" y="0" transform="translate(632.20 165.00) rotate(-90) scale(0.95 1)" font-size="12.2" text-anchor="middle" fill="#1a1a1a" dominant-baseline="central">7</text>
<line x1="614.30" y1="137.50" x2="652.70" y2="137.50" stroke="#1a1a1a" stroke-width="1.0" stroke-linecap="butt"/>
<line x1="633.50" y1="143.50" x2="691.00" y2="143.50" stroke="#1a1a1a" stroke-width="1.0" stroke-linecap="butt"/>
<line x1="614.30" y1="147.50" x2="654.00" y2="147.50" stroke="#777" stroke-width="1.0" stroke-linecap="butt" stroke-dasharray="7 3"/>
<line x1="712.50" y1="133.00" x2="712.50" y2="183.00" stroke="#1a1a1a" stroke-width="1.0" stroke-linecap="butt" stroke-dasharray="6 2.2"/>
<line x1="694.90" y1="143.50" x2="730.70" y2="143.50" stroke="#1a1a1a" stroke-width="1.0" stroke-linecap="butt" stroke-dasharray="3 1.5 1 1.5"/>
<line x1="694.50" y1="143.20" x2="694.50" y2="151.00" stroke="#1a1a1a" stroke-width="1.0" stroke-linecap="butt"/>
<line x1="730.50" y1="143.20" x2="730.50" y2="151.00" stroke="#777" stroke-width="1.0" stroke-linecap="butt"/>
<line x1="668.60" y1="148.50" x2="678.20" y2="213.60" stroke="#1a1a1a" stroke-width="2.2" stroke-linecap="butt"/>
<line x1="674.40" y1="148.50" x2="680.80" y2="213.60" stroke="#1a1a1a" stroke-width="0.8" stroke-linecap="butt"/>
<line x1="758.30" y1="148.50" x2="750.60" y2="193.00" stroke="#1a1a1a" stroke-width="2.2" stroke-linecap="butt"/>
<line x1="750.60" y1="148.50" x2="749.80" y2="193.00" stroke="#1a1a1a" stroke-width="0.8" stroke-linecap="butt"/>
<line x1="678.20" y1="213.50" x2="719.00" y2="213.50" stroke="#1a1a1a" stroke-width="0.8" stroke-linecap="butt"/>
<line x1="680.00" y1="213.60" x2="680.00" y2="231.50" stroke="#1a1a1a" stroke-width="2.0" stroke-linecap="butt"/>
<path d="M 664.5 239.5 L 676.5 232.5 L 687.5 225.5 L 715.5 220.5 L 725.5 207.5 L 740.5 204.5 L 748.5 195.5 L 762.5 180.5" stroke="#1a1a1a" stroke-width="0.9" fill="none" stroke-linejoin="miter"/>
<path d="M 675.5 233.5 L 678.5 229.5 L 680.5 231.5" stroke="#1a1a1a" stroke-width="1.4" fill="none" stroke-linejoin="miter"/>
<circle cx="713.30" cy="353.30" r="58.00" stroke="#1a1a1a" stroke-width="2.2" fill="none"/>
<circle cx="713.30" cy="353.30" r="49.20" stroke="#1a1a1a" stroke-width="0.8" fill="none" stroke-dasharray="4.5 2.5"/>
<circle cx="713.30" cy="353.30" r="41.00" stroke="#1a1a1a" stroke-width="0.8" fill="none"/>
<circle cx="713.30" cy="353.30" r="8.60" stroke="#1a1a1a" stroke-width="1.0" fill="none"/>
<path d="M 698.73 358.60 A 15.5 15.5 0 0 1 704.41 340.60" stroke="#666" stroke-width="0.6" fill="none" stroke-linejoin="miter"/>
<path d="M 717.31 338.33 A 15.5 15.5 0 0 1 726.72 361.05" stroke="#666" stroke-width="0.6" fill="none" stroke-linejoin="miter"/>
<path d="M 721.05 366.72 A 15.5 15.5 0 0 1 705.55 366.72" stroke="#666" stroke-width="0.6" fill="none" stroke-linejoin="miter"/>
<circle cx="678.20" cy="318.00" r="3.60" stroke="#1a1a1a" stroke-width="0.9" fill="none"/>
<line x1="674.70" y1="321.50" x2="681.70" y2="314.50" stroke="#1a1a1a" stroke-width="0.8" stroke-linecap="butt"/>
<circle cx="747.30" cy="318.80" r="3.60" stroke="#1a1a1a" stroke-width="0.9" fill="none"/>
<line x1="743.80" y1="322.30" x2="750.80" y2="315.30" stroke="#1a1a1a" stroke-width="0.8" stroke-linecap="butt"/>
<circle cx="678.20" cy="387.80" r="3.60" stroke="#1a1a1a" stroke-width="0.9" fill="none"/>
<line x1="674.70" y1="391.30" x2="681.70" y2="384.30" stroke="#1a1a1a" stroke-width="0.8" stroke-linecap="butt"/>
<circle cx="747.30" cy="387.80" r="3.60" stroke="#1a1a1a" stroke-width="0.9" fill="none"/>
<line x1="743.80" y1="391.30" x2="750.80" y2="384.30" stroke="#1a1a1a" stroke-width="0.8" stroke-linecap="butt"/>
<rect x="657.5" y="343" width="38.5" height="18.6" fill="#fff"/>
<rect x="710.9" y="286" width="4.2" height="57" fill="#fff"/>
<path d="M 656.01 362.37 A 58.0 58.0 0 0 1 656.01 344.23" stroke="#1a1a1a" stroke-width="2.2" fill="none" stroke-linejoin="miter"/>
<rect x="743.6" y="299" width="7.4" height="12" fill="#fff"/>
<rect x="665.2" y="383" width="6.8" height="14" fill="#fff"/>
<rect x="753.6" y="384" width="7.2" height="14" fill="#fff"/>
<line x1="646.30" y1="353.50" x2="775.40" y2="353.50" stroke="#1a1a1a" stroke-width="1.0" stroke-linecap="butt" stroke-dasharray="6 2.2"/>
<line x1="713.50" y1="288.60" x2="713.50" y2="415.20" stroke="#1a1a1a" stroke-width="1.0" stroke-linecap="butt" stroke-dasharray="6 2.2"/>
<line x1="706.50" y1="392.50" x2="720.00" y2="392.50" stroke="#1a1a1a" stroke-width="0.8" stroke-linecap="butt"/>
<line x1="709.00" y1="401.50" x2="717.50" y2="401.50" stroke="#1a1a1a" stroke-width="0.8" stroke-linecap="butt"/>
<line x1="655.50" y1="259.20" x2="655.50" y2="339.70" stroke="#1a1a1a" stroke-width="1.0" stroke-linecap="butt"/>
<line x1="770.50" y1="259.20" x2="770.50" y2="350.00" stroke="#1a1a1a" stroke-width="1.0" stroke-linecap="butt"/>
<line x1="655.20" y1="265.50" x2="770.40" y2="265.50" stroke="#555" stroke-width="1.0" stroke-linecap="butt"/>
<polygon points="655.20,265.50 662.20,263.70 662.20,267.30" fill="#1a1a1a"/>
<polygon points="770.40,265.50 763.40,267.30 763.40,263.70" fill="#1a1a1a"/>
<text x="0" y="0" transform="translate(713.30 262.40) scale(0.95 1)" font-size="12.2" text-anchor="middle" fill="#1a1a1a">N</text>
<line x1="710.50" y1="282.20" x2="710.50" y2="342.30" stroke="#1a1a1a" stroke-width="1.0" stroke-linecap="butt"/>
<line x1="715.50" y1="282.20" x2="715.50" y2="346.00" stroke="#1a1a1a" stroke-width="1.0" stroke-linecap="butt"/>
<line x1="693.60" y1="285.50" x2="710.20" y2="285.50" stroke="#1a1a1a" stroke-width="1.0" stroke-linecap="butt"/>
<polygon points="710.20,285.50 703.20,287.30 703.20,283.70" fill="#1a1a1a"/>
<line x1="729.40" y1="285.50" x2="715.80" y2="285.50" stroke="#1a1a1a" stroke-width="1.0" stroke-linecap="butt"/>
<polygon points="715.80,285.50 722.80,283.70 722.80,287.30" fill="#1a1a1a"/>
<text x="0" y="0" transform="translate(704.30 281.50) scale(0.95 1)" font-size="12.2" text-anchor="middle" fill="#1a1a1a">M2</text>
<text x="0" y="0" transform="translate(719.60 281.50) scale(0.95 1)" font-size="9.2" text-anchor="middle" fill="#1a1a1a">H9</text>
<line x1="743.50" y1="282.00" x2="743.50" y2="316.70" stroke="#1a1a1a" stroke-width="1.0" stroke-linecap="butt"/>
<line x1="751.50" y1="282.00" x2="751.50" y2="317.00" stroke="#1a1a1a" stroke-width="1.0" stroke-linecap="butt"/>
<line x1="732.00" y1="285.50" x2="743.00" y2="285.50" stroke="#1a1a1a" stroke-width="1.0" stroke-linecap="butt"/>
<polygon points="743.00,285.50 736.00,287.30 736.00,283.70" fill="#1a1a1a"/>
<line x1="769.00" y1="285.50" x2="751.60" y2="285.50" stroke="#1a1a1a" stroke-width="1.0" stroke-linecap="butt"/>
<polygon points="751.60,285.50 758.60,283.70 758.60,287.30" fill="#1a1a1a"/>
<text x="0" y="0" transform="translate(748.60 281.50) scale(0.95 1)" font-size="12.2" text-anchor="middle" fill="#1a1a1a">N4</text>
<line x1="636.00" y1="342.50" x2="710.20" y2="342.50" stroke="#1a1a1a" stroke-width="1.0" stroke-linecap="butt"/>
<line x1="636.00" y1="362.50" x2="704.60" y2="362.50" stroke="#1a1a1a" stroke-width="1.0" stroke-linecap="butt"/>
<line x1="641.50" y1="324.40" x2="641.50" y2="342.30" stroke="#1a1a1a" stroke-width="1.0" stroke-linecap="butt"/>
<polygon points="641.50,342.30 639.70,335.30 643.30,335.30" fill="#1a1a1a"/>
<line x1="641.50" y1="378.00" x2="641.50" y2="362.20" stroke="#1a1a1a" stroke-width="1.0" stroke-linecap="butt"/>
<polygon points="641.50,362.20 643.30,369.20 639.70,369.20" fill="#1a1a1a"/>
<text x="0" y="0" transform="translate(629.60 352.50) rotate(-90) scale(0.95 1)" font-size="12.2" text-anchor="middle" fill="#1a1a1a" dominant-baseline="central">M1</text>
<line x1="704.50" y1="359.00" x2="704.50" y2="438.00" stroke="#1a1a1a" stroke-width="1.0" stroke-linecap="butt"/>
<line x1="721.50" y1="362.00" x2="721.50" y2="438.00" stroke="#1a1a1a" stroke-width="1.0" stroke-linecap="butt"/>
<line x1="691.00" y1="434.50" x2="767.50" y2="434.50" stroke="#1a1a1a" stroke-width="1.0" stroke-linecap="butt"/>
<polygon points="704.60,434.50 697.60,436.30 697.60,432.70" fill="#1a1a1a"/>
<polygon points="721.70,434.50 728.70,432.70 728.70,436.30" fill="#1a1a1a"/>
<text x="0" y="0" transform="translate(738.40 431.50) scale(0.95 1)" font-size="12.2" text-anchor="middle" fill="#1a1a1a">M</text>
<text x="0" y="0" transform="translate(751.00 431.50) scale(0.95 1)" font-size="9.2" text-anchor="middle" fill="#1a1a1a">E7</text>
<line x1="672.50" y1="355.00" x2="672.50" y2="461.00" stroke="#555" stroke-width="1.0" stroke-linecap="butt"/>
<line x1="753.50" y1="350.00" x2="753.50" y2="419.00" stroke="#1a1a1a" stroke-width="1.0" stroke-linecap="butt"/>
<line x1="753.50" y1="436.90" x2="753.50" y2="461.00" stroke="#1a1a1a" stroke-width="1.0" stroke-linecap="butt"/>
<line x1="672.50" y1="457.50" x2="753.50" y2="457.50" stroke="#555" stroke-width="1.0" stroke-linecap="butt"/>
<polygon points="672.50,457.50 679.50,455.70 679.50,459.30" fill="#1a1a1a"/>
<polygon points="753.50,457.50 746.50,459.30 746.50,455.70" fill="#1a1a1a"/>
<text x="0" y="0" transform="translate(714.30 455.00) scale(0.95 1)" font-size="12.2" text-anchor="middle" fill="#1a1a1a">N2</text>
<line x1="664.50" y1="360.00" x2="664.50" y2="481.00" stroke="#1a1a1a" stroke-width="1.0" stroke-linecap="butt"/>
<line x1="761.50" y1="357.60" x2="761.50" y2="419.00" stroke="#1a1a1a" stroke-width="1.0" stroke-linecap="butt"/>
<line x1="761.50" y1="436.90" x2="761.50" y2="481.00" stroke="#1a1a1a" stroke-width="1.0" stroke-linecap="butt"/>
<line x1="664.50" y1="477.50" x2="761.40" y2="477.50" stroke="#555" stroke-width="1.0" stroke-linecap="butt"/>
<polygon points="664.50,477.50 671.50,475.70 671.50,479.30" fill="#1a1a1a"/>
<polygon points="761.40,477.50 754.40,479.30 754.40,475.70" fill="#1a1a1a"/>
<text x="0" y="0" transform="translate(714.30 475.00) scale(0.95 1)" font-size="12.2" text-anchor="middle" fill="#1a1a1a">N1</text>
<line x1="626.80" y1="634.50" x2="685.50" y2="634.50" stroke="#1a1a1a" stroke-width="1.0" stroke-linecap="butt"/>
<path d="M 660.30 659.20 A 31.0 31.0 0 0 1 691.30 628.20 L 691.30 638.60 A 20.6 20.6 0 0 0 670.70 659.20 Z" stroke="#1a1a1a" stroke-width="0" fill="#111" stroke-linejoin="miter"/>
<path d="M 722.30 659.20 A 31.0 31.0 0 0 1 691.30 690.20 L 691.30 679.80 A 20.6 20.6 0 0 0 711.90 659.20 Z" stroke="#1a1a1a" stroke-width="0" fill="#111" stroke-linejoin="miter"/>
<circle cx="691.30" cy="659.20" r="31.00" stroke="#1a1a1a" stroke-width="1.8" fill="none"/>
<circle cx="691.30" cy="659.20" r="20.60" stroke="#1a1a1a" stroke-width="0.8" fill="none"/>
<rect x="686" y="626" width="11" height="13.2" fill="#fff"/>
<rect x="685.5" y="628" width="5.4" height="6.3" fill="#111"/>
<path d="M 685.5 628.5 L 697.5 628.5 L 697.5 634.5 L 685.5 634.5" stroke="#1a1a1a" stroke-width="0.8" fill="none" stroke-linejoin="miter"/>
<line x1="685.50" y1="588.80" x2="685.50" y2="639.20" stroke="#555" stroke-width="1.0" stroke-linecap="butt"/>
<line x1="697.50" y1="588.80" x2="697.50" y2="639.20" stroke="#555" stroke-width="1.0" stroke-linecap="butt"/>
<line x1="669.40" y1="596.50" x2="685.50" y2="596.50" stroke="#1a1a1a" stroke-width="1.0" stroke-linecap="butt"/>
<polygon points="685.50,596.50 678.50,598.30 678.50,594.70" fill="#1a1a1a"/>
<line x1="740.00" y1="596.50" x2="697.20" y2="596.50" stroke="#1a1a1a" stroke-width="1.0" stroke-linecap="butt"/>
<polygon points="697.20,596.50 704.20,594.70 704.20,598.30" fill="#1a1a1a"/>
<text x="0" y="0" transform="translate(713.50 594.60) scale(0.95 1)" font-size="12.2" text-anchor="middle" fill="#1a1a1a">28</text>
<text x="0" y="0" transform="translate(728.50 594.60) scale(0.95 1)" font-size="9.2" text-anchor="middle" fill="#1a1a1a">H8</text>
<line x1="669.00" y1="634.50" x2="685.50" y2="634.50" stroke="#fff" stroke-width="1.0" stroke-linecap="butt"/>
<line x1="652.00" y1="659.50" x2="728.00" y2="659.50" stroke="#222" stroke-width="1.0" stroke-linecap="butt" stroke-dasharray="5 2 1.5 2"/>
<line x1="691.50" y1="622.00" x2="691.50" y2="696.00" stroke="#333" stroke-width="0.9" stroke-linecap="butt" stroke-dasharray="5 2 1.5 2"/>
<line x1="626.80" y1="680.50" x2="691.30" y2="680.50" stroke="#666" stroke-width="1.0" stroke-linecap="butt"/>
<line x1="632.50" y1="634.30" x2="632.50" y2="680.60" stroke="#1a1a1a" stroke-width="1.0" stroke-linecap="butt"/>
<polygon points="632.50,634.30 634.30,641.30 630.70,641.30" fill="#1a1a1a"/>
<polygon points="632.50,680.60 630.70,673.60 634.30,673.60" fill="#1a1a1a"/>
<text x="0" y="0" transform="translate(623.80 656.50) rotate(-90) scale(0.95 1)" font-size="12.2" text-anchor="middle" fill="#1a1a1a" dominant-baseline="central">116.4</text>
<line x1="670.50" y1="665.00" x2="670.50" y2="721.00" stroke="#1a1a1a" stroke-width="1.0" stroke-linecap="butt"/>
<line x1="711.50" y1="690.00" x2="711.50" y2="721.00" stroke="#1a1a1a" stroke-width="1.0" stroke-linecap="butt"/>
<line x1="711.50" y1="662.00" x2="711.50" y2="690.00" stroke="#fff" stroke-width="1.0" stroke-linecap="butt"/>
<line x1="655.30" y1="716.50" x2="670.70" y2="716.50" stroke="#1a1a1a" stroke-width="1.0" stroke-linecap="butt"/>
<polygon points="670.70,716.50 663.70,718.30 663.70,714.70" fill="#1a1a1a"/>
<line x1="754.70" y1="716.50" x2="711.20" y2="716.50" stroke="#1a1a1a" stroke-width="1.0" stroke-linecap="butt"/>
<polygon points="711.20,716.50 718.20,714.70 718.20,718.30" fill="#1a1a1a"/>
<text x="0" y="0" transform="translate(730.60 712.30) scale(0.95 1)" font-size="12.2" text-anchor="middle" fill="#1a1a1a">110</text>
<text x="0" y="0" transform="translate(747.50 712.30) scale(0.95 1)" font-size="9.2" text-anchor="middle" fill="#1a1a1a">G7</text>
</svg>
</body></html>
